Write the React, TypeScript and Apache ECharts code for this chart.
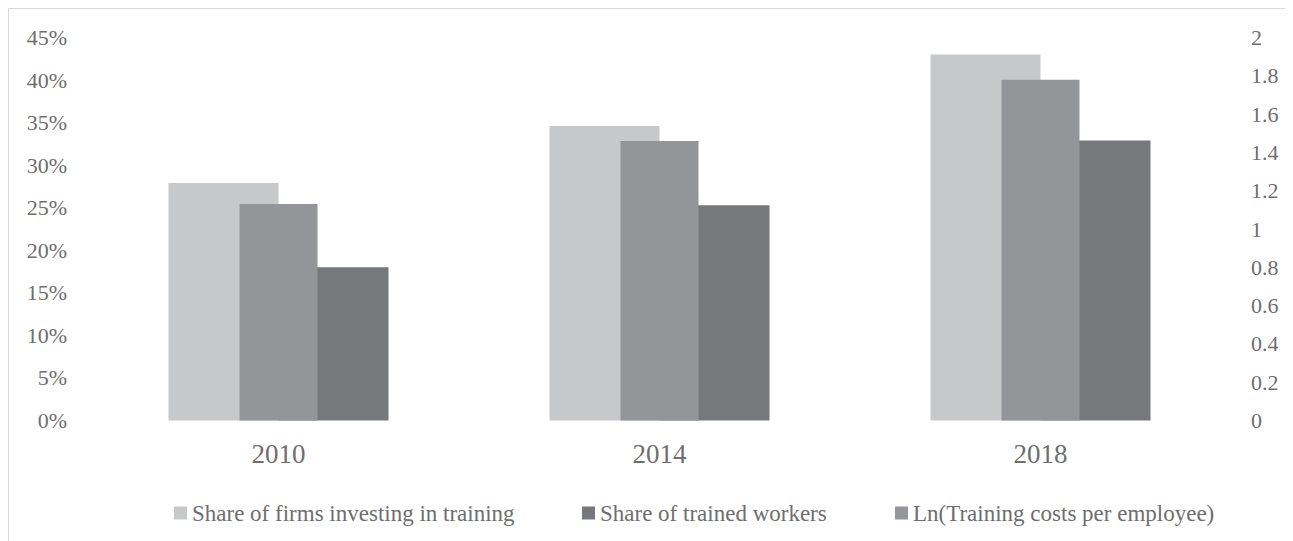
import React, { useEffect, useRef } from "react";
import * as echarts from "echarts";

const years = ["2010", "2014", "2018"];
const shareFirmsTraining = [27.9, 34.6, 43.0];
const shareTrainedWorkers = [18.0, 25.3, 32.9];
const lnTrainingCosts = [1.13, 1.46, 1.78];

const seriesNames = [
  "Share of firms investing in training",
  "Share of trained workers",
  "Ln(Training costs per employee)",
];
const seriesColors = ["#C7C8CA", "#77787B", "#939598"];

const leftAxis = { min: 0, max: 45, interval: 5 };
const rightAxis = { min: 0, max: 2, interval: 0.2 };

const FONT = "'Liberation Serif', 'Times New Roman', serif";
const TEXT = "#6e6e6e";

export default function App() {
  const ref = useRef<HTMLDivElement>(null);

  useEffect(() => {
    if (!ref.current) return;
    const chart = echarts.init(ref.current, undefined, { renderer: "svg" });
    const legendLefts = [160, 568, 881];
    chart.setOption({
      animation: false,
      textStyle: { fontFamily: FONT, color: TEXT },
      grid: { left: 79, right: 62, top: 28.5, bottom: 120.5 },
      legend: seriesNames.map((n, i) => ({
        data: [n],
        left: legendLefts[i],
        top: 487.5,
        icon: "rect",
        itemWidth: 13,
        itemHeight: 13,
        selectedMode: false,
        textStyle: { fontFamily: FONT, color: TEXT, fontSize: 23 },
      })),
      xAxis: [
        {
          type: "category",
          data: years,
          axisLine: { show: false },
          axisTick: { show: false },
          splitLine: { show: false },
          axisLabel: { fontFamily: FONT, color: TEXT, fontSize: 27, margin: 20 },
        },
        {
          type: "category",
          data: years,
          show: false,
        },
      ],
      yAxis: [
        {
          type: "value",
          position: "left",
          min: leftAxis.min,
          max: leftAxis.max,
          interval: leftAxis.interval,
          axisLine: { show: false },
          axisTick: { show: false },
          splitLine: { show: false },
          axisLabel: {
            fontFamily: FONT,
            color: TEXT,
            fontSize: 22,
            margin: 21,
            formatter: "{value}%",
          },
        },
        {
          type: "value",
          position: "right",
          min: rightAxis.min,
          max: rightAxis.max,
          interval: rightAxis.interval,
          axisLine: { show: false },
          axisTick: { show: false },
          splitLine: { show: false },
          axisLabel: { fontFamily: FONT, color: TEXT, fontSize: 22, margin: 20 },
        },
      ],
      series: [
        {
          name: seriesNames[0],
          type: "bar",
          xAxisIndex: 0,
          yAxisIndex: 0,
          data: shareFirmsTraining,
          barWidth: 110,
          barGap: "0%",
          itemStyle: { color: seriesColors[0] },
        },
        {
          name: seriesNames[1],
          type: "bar",
          xAxisIndex: 0,
          yAxisIndex: 0,
          data: shareTrainedWorkers,
          barWidth: 110,
          barGap: "0%",
          itemStyle: { color: seriesColors[1] },
        },
        {
          name: seriesNames[2],
          type: "bar",
          xAxisIndex: 1,
          yAxisIndex: 1,
          data: lnTrainingCosts,
          barWidth: 78,
          itemStyle: { color: seriesColors[2] },
        },
      ],
    });
    return () => chart.dispose();
  }, []);

  return (
    <div
      style={{
        width: 1284,
        height: 532,
        borderTop: "1px solid #d9d9d9",
        borderLeft: "1px solid #d9d9d9",
        background: "#fff",
      }}
    >
      <div ref={ref} style={{ width: 1284, height: 532 }} />
    </div>
  );
}
